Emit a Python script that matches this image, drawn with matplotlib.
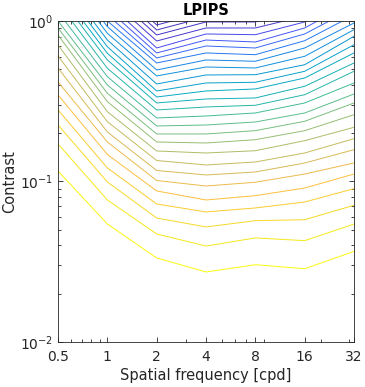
import matplotlib
matplotlib.use("Agg")
import matplotlib.pyplot as plt
import numpy as np
from matplotlib.colors import LinearSegmentedColormap
from matplotlib.ticker import FixedLocator, LogLocator, NullFormatter

# spatial frequencies [cpd] of the measured columns
freqs = [0.5, 1, 2, 4, 8, 16, 32]
freq_labels = ["0.5", "1", "2", "4", "8", "16", "32"]

# contrast of each iso-LPIPS line (bottom/yellow line first) at each frequency
thr_0p5 = [0.1162, 0.1713, 0.2249, 0.279, 0.3458, 0.4168, 0.5095, 0.605, 0.7087, 0.818,
           0.9045, 1.0, 1.138, 1.295, 1.452, 1.606, 1.75, 1.935, 2.139, 2.332,
           2.541, 2.77, 3.018, 3.29, 3.585, 3.907, 4.259, 4.642, 5.058]
thr_1 = [0.05435, 0.0767, 0.0993, 0.1214, 0.1473, 0.1762, 0.2034, 0.2359, 0.2722, 0.3142,
         0.3543, 0.3993, 0.4498, 0.5073, 0.5715, 0.629, 0.6915, 0.761, 0.838, 0.922,
         1.0, 1.09, 1.188, 1.295, 1.411, 1.538, 1.676, 1.827, 1.991]
thr_2 = [0.03338, 0.0471, 0.0592, 0.0724, 0.0873, 0.1014, 0.1171, 0.1351, 0.1549, 0.1762,
         0.1977, 0.2217, 0.2487, 0.279, 0.3084, 0.3361, 0.3663, 0.4051, 0.4544, 0.4951,
         0.5474, 0.5882, 0.6321, 0.6788, 0.7503, 0.818, 0.879, 0.944, 0.986]
thr_4 = [0.0273, 0.0396, 0.0521, 0.0646, 0.0767, 0.0937, 0.1098, 0.1267, 0.1505, 0.1737,
         0.1977, 0.2249, 0.2559, 0.2912, 0.3266, 0.3663, 0.4109, 0.4609, 0.5168, 0.5715,
         0.6321, 0.6985, 0.761, 0.83, 0.9045, 0.986, 1.059, 1.138, 1.205]
thr_8 = [0.0303, 0.0445, 0.057, 0.0684, 0.0816, 0.0989, 0.1146, 0.1323, 0.1555, 0.1821,
         0.2073, 0.2348, 0.2672, 0.2984, 0.3314, 0.3771, 0.415, 0.4628, 0.5095, 0.561,
         0.6166, 0.6788, 0.7398, 0.8214, 0.9045, 0.986, 1.075, 1.171, 1.276]
thr_16 = [0.0286, 0.0428, 0.0578, 0.0745, 0.0911, 0.1113, 0.1304, 0.1505, 0.1796, 0.2073,
          0.2372, 0.2672, 0.3084, 0.3473, 0.3919, 0.4414, 0.4859, 0.534, 0.6025, 0.6788,
          0.7536, 0.83, 0.9045, 0.986, 1.075, 1.171, 1.276, 1.391, 1.516]
thr_32 = [0.0367, 0.0543, 0.0711, 0.0902, 0.1113, 0.1304, 0.1578, 0.1848, 0.2176, 0.2607,
          0.3084, 0.3508, 0.4109, 0.4859, 0.5474, 0.6321, 0.7117, 0.8029, 0.8828, 0.9717,
          1.09, 1.205, 1.332, 1.473, 1.628, 1.8, 1.991, 2.201, 2.434]

# parula-like colour map
parula = LinearSegmentedColormap.from_list("parula", [
    (0.000, (0.2422, 0.1504, 0.6603)),
    (0.060, (0.2780, 0.2540, 0.8960)),
    (0.110, (0.2810, 0.3228, 0.9579)),
    (0.170, (0.1900, 0.4300, 0.9700)),
    (0.238, (0.0900, 0.5200, 0.9000)),
    (0.317, (0.0343, 0.5966, 0.8199)),
    (0.397, (0.0267, 0.6642, 0.7607)),
    (0.476, (0.1453, 0.7098, 0.6646)),
    (0.556, (0.3482, 0.7424, 0.5473)),
    (0.635, (0.5709, 0.7485, 0.4494)),
    (0.714, (0.7525, 0.7384, 0.3768)),
    (0.794, (0.9139, 0.7258, 0.3063)),
    (0.841, (0.9938, 0.7455, 0.2403)),
    (0.889, (0.9880, 0.8066, 0.1794)),
    (0.952, (0.9589, 0.8949, 0.1132)),
    (1.000, (0.9763, 0.9831, 0.0538)),
])

lines = np.array([thr_0p5, thr_1, thr_2, thr_4, thr_8, thr_16, thr_32]).T
n_col = 26  # levels spanned by the colour map

fig = plt.figure(figsize=(3.65, 3.87), dpi=100)
ax = fig.add_axes([0.159, 0.1163, 0.811, 0.8295])

for k, row in enumerate(lines):
    t = max(0.03, 1 - k / (n_col - 1))
    ax.plot(freqs, row, color=parula(t), lw=0.7)

ax.set_xscale("log")
ax.set_yscale("log")
ax.set_xlim(0.5, 32)
ax.set_ylim(0.01, 1)

ax.xaxis.set_major_locator(FixedLocator(freqs))
ax.set_xticklabels(freq_labels)
ax.xaxis.set_minor_locator(LogLocator(base=10, subs=np.arange(2, 10)))
ax.xaxis.set_minor_formatter(NullFormatter())

txt = "#262626"
ax.tick_params(which="both", direction="in", top=True, right=True, colors=txt,
               labelsize=10, width=0.6)
ax.tick_params(which="major", length=3.5)
ax.tick_params(which="minor", length=2)
ax.tick_params(axis="x", which="major", pad=6)
for s in ax.spines.values():
    s.set_color(txt)
    s.set_linewidth(0.6)

ax.set_xlabel("Spatial frequency [cpd]", fontsize=10.5, color=txt, labelpad=3)
ax.set_ylabel("Contrast", fontsize=10.5, color=txt, labelpad=2)
ax.set_title("LPIPS", fontsize=10.5, fontweight="bold", color="black", pad=4)

fig.savefig("out.png", dpi=100)
